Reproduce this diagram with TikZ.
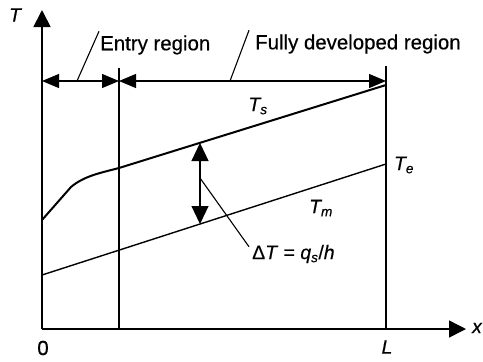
\documentclass[tikz,border=0pt]{standalone}
\usepackage{fontspec}
\setmainfont{Liberation Sans}[FakeBold=0.4]
\usetikzlibrary{arrows.meta}
\begin{document}
\begin{tikzpicture}[x=1bp,y=-1bp,
  lbl/.style={font=\fontsize{20.5}{24}\selectfont, inner sep=0pt},
  ilbl/.style={font=\fontsize{19.5}{23}\selectfont\itshape, inner sep=0pt},
  axis/.style={line width=1.8bp, -{Triangle[length=17bp,width=17bp]}},
  dimarr/.style={line width=1.1bp, {Triangle[length=17bp,width=14bp]}-{Triangle[length=17bp,width=14bp]}},
  dtarr/.style={line width=1.2bp, {Triangle[length=18bp,width=17bp]}-{Triangle[length=18bp,width=17bp]}},
  thinline/.style={line width=1.1bp},
  curve/.style={line width=2bp}]
\useasboundingbox (0,0) rectangle (483,361);
% axes
\coordinate (O) at (42,329);
\coordinate (Ytip) at (42,10);
\coordinate (Xtip) at (466,329);
\draw[axis] (O) -- (Ytip);
\draw[axis, line width=1.4bp] (O) -- (Xtip);
\node[ilbl] (Tlab) at (15,15) {T};
\node[ilbl] (xlab) at (477,328) {x};
\node[lbl] (zero) at (43,348) {0};
\node[ilbl] (Llab) at (387,347) {L};
% region lines
\coordinate (E0) at (119,68);
\coordinate (E1) at (119,329);
\coordinate (L0) at (386,66);
\coordinate (L1) at (386,329);
\draw[thinline, line width=1.3bp] (E0) -- (E1);
\draw[thinline, line width=1.3bp] (L0) -- (L1);
% dimension arrows
\coordinate (D0) at (42,81);
\coordinate (D1) at (119,81);
\coordinate (D2) at (386,81);
\draw[dimarr] (D0) -- (D1);
\draw[dimarr] (D1) -- (D2);
% labels
\node[lbl, anchor=west] (entry) at (100,45) {Entry region};
\node[lbl, anchor=west] (fully) at (255,44) {Fully developed region};
\coordinate (e1) at (77,81);
\coordinate (f1) at (230,81);
\draw[thinline] (e1) -- ([xshift=-1bp,yshift=4bp]entry.north west);
\draw[thinline] (f1) -- ([xshift=-6bp,yshift=4bp]fully.north west);
% Ts curve
\coordinate (S0) at (42,220);
\coordinate (S1) at (71,187);
\coordinate (S2) at (119,168);
\coordinate (S3) at (386,85);
\draw[curve] (S0) -- (S1) .. controls (84,176) and (100,173) .. (S2) -- (S3);
% Tm line
\coordinate (M0) at (42,275);
\coordinate (M1) at (386,164);
\draw[thinline, line width=1.4bp] (M0) -- (M1);
\node[ilbl] (Ts) at (258,106) {T\textsubscript{s}};
\node[ilbl] (Tm) at (321,208) {T\textsubscript{m}};
\node[ilbl] (Te) at (404,165) {T\textsubscript{e}};
% Delta T arrow
\coordinate (A0) at (200,143);
\coordinate (A1) at (200,224);
\draw[dtarr] (A0) -- (A1);
\coordinate (A2) at (200,178);
\node[lbl, anchor=west, font=\fontsize{19.5}{23}\selectfont] (dT) at (252,254) {Δ\textit{T} = \textit{q}\textsubscript{\textit{s}}/\textit{h}};
\draw[thinline] (A2) -- ([xshift=-3bp,yshift=-2bp]dT.north west);
\end{tikzpicture}
\end{document}
